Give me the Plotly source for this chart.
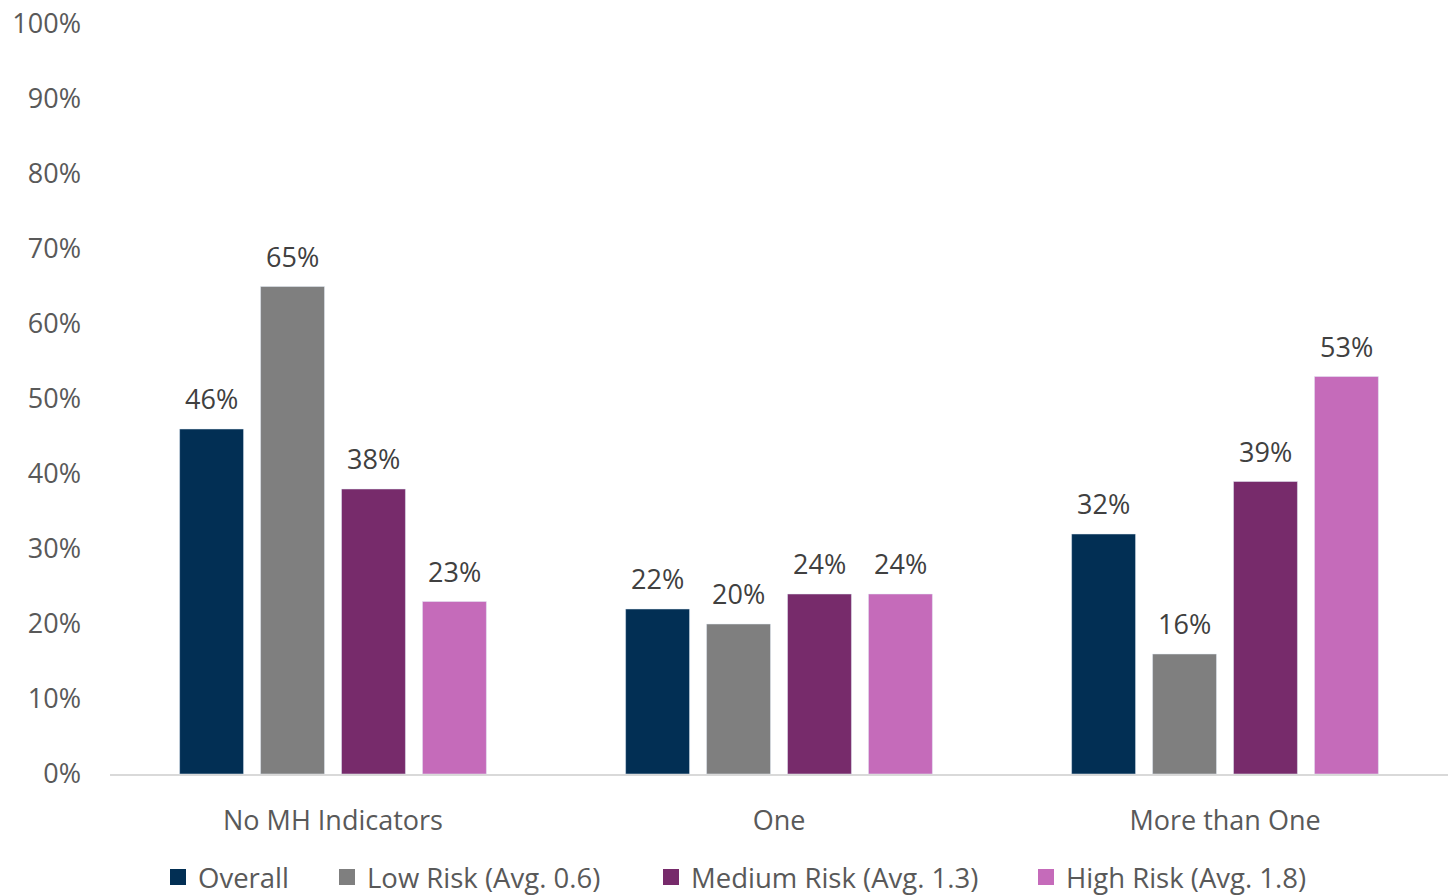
import plotly.graph_objects as go

categories = ["No MH Indicators", "One", "More than One"]
series_names = ["Overall", "Low Risk (Avg. 0.6)", "Medium Risk (Avg. 1.3)", "High Risk (Avg. 1.8)"]
overall = [0.46, 0.22, 0.32]
low_risk = [0.65, 0.20, 0.16]
medium_risk = [0.38, 0.24, 0.39]
high_risk = [0.23, 0.24, 0.53]
colors = ["#022F54", "#7F7F7F", "#772B6B", "#C56BBA"]
y_ticks = [i / 10 for i in range(11)]

FONT = "'Open Sans', sans-serif"
W, H = 1456, 895
ML, MR, MT, MB = 110, 8, 24, 121
BARGAP = 0.274
all_series = [overall, low_risk, medium_risk, high_risk]
legend_x = [158, 327, 651, 1026]
legend_keys = ["legend", "legend2", "legend3", "legend4"]

fig = go.Figure()
cat_px = (W - ML - MR) / len(categories)
slot_px = cat_px * (1 - BARGAP) / len(all_series)
for i, (name, vals, col) in enumerate(zip(series_names, all_series, colors)):
    fig.add_trace(go.Bar(x=categories, y=vals, name=name, marker_color=col, showlegend=False))
    fig.add_trace(go.Scatter(x=[categories[0]], y=[None], mode="markers", name=name,
                             marker=dict(symbol="square", size=18, color=col),
                             legend=legend_keys[i]))
    for c, v in zip(categories, vals):
        fig.add_annotation(x=c, y=v, text=f"{round(v*100)}%", showarrow=False,
                           xshift=(i - (len(all_series) - 1) / 2) * slot_px, yshift=10,
                           yanchor="bottom", font=dict(size=27, color="#404040", family=FONT))

layout_legends = {}
for key, lx in zip(legend_keys, legend_x):
    layout_legends[key] = dict(orientation="h", xref="container", yref="container",
                               x=lx / W, xanchor="left", y=18 / H, yanchor="middle",
                               font=dict(size=27.5, color="#595959", family=FONT),
                               itemwidth=30, bgcolor="rgba(0,0,0,0)")

fig.update_layout(
    width=W, height=H,
    margin=dict(l=ML, r=MR, t=MT, b=MB, autoexpand=False),
    paper_bgcolor="white", plot_bgcolor="white",
    barmode="group", bargap=BARGAP, bargroupgap=0.21,
    font=dict(family=FONT, color="#595959", size=27),
    showlegend=True,
    xaxis=dict(showline=True, linecolor="#D9D9D9", linewidth=2, showgrid=False,
               ticks="", tickfont=dict(size=27, color="#595959"), ticklabelstandoff=22),
    yaxis=dict(range=[0, 1], tickvals=y_ticks, tickformat=".0%", showgrid=False,
               zeroline=False, showline=False, ticks="",
               tickfont=dict(size=27, color="#595959"), ticklabelstandoff=28),
    **layout_legends,
)

fig.write_html("out.html")
